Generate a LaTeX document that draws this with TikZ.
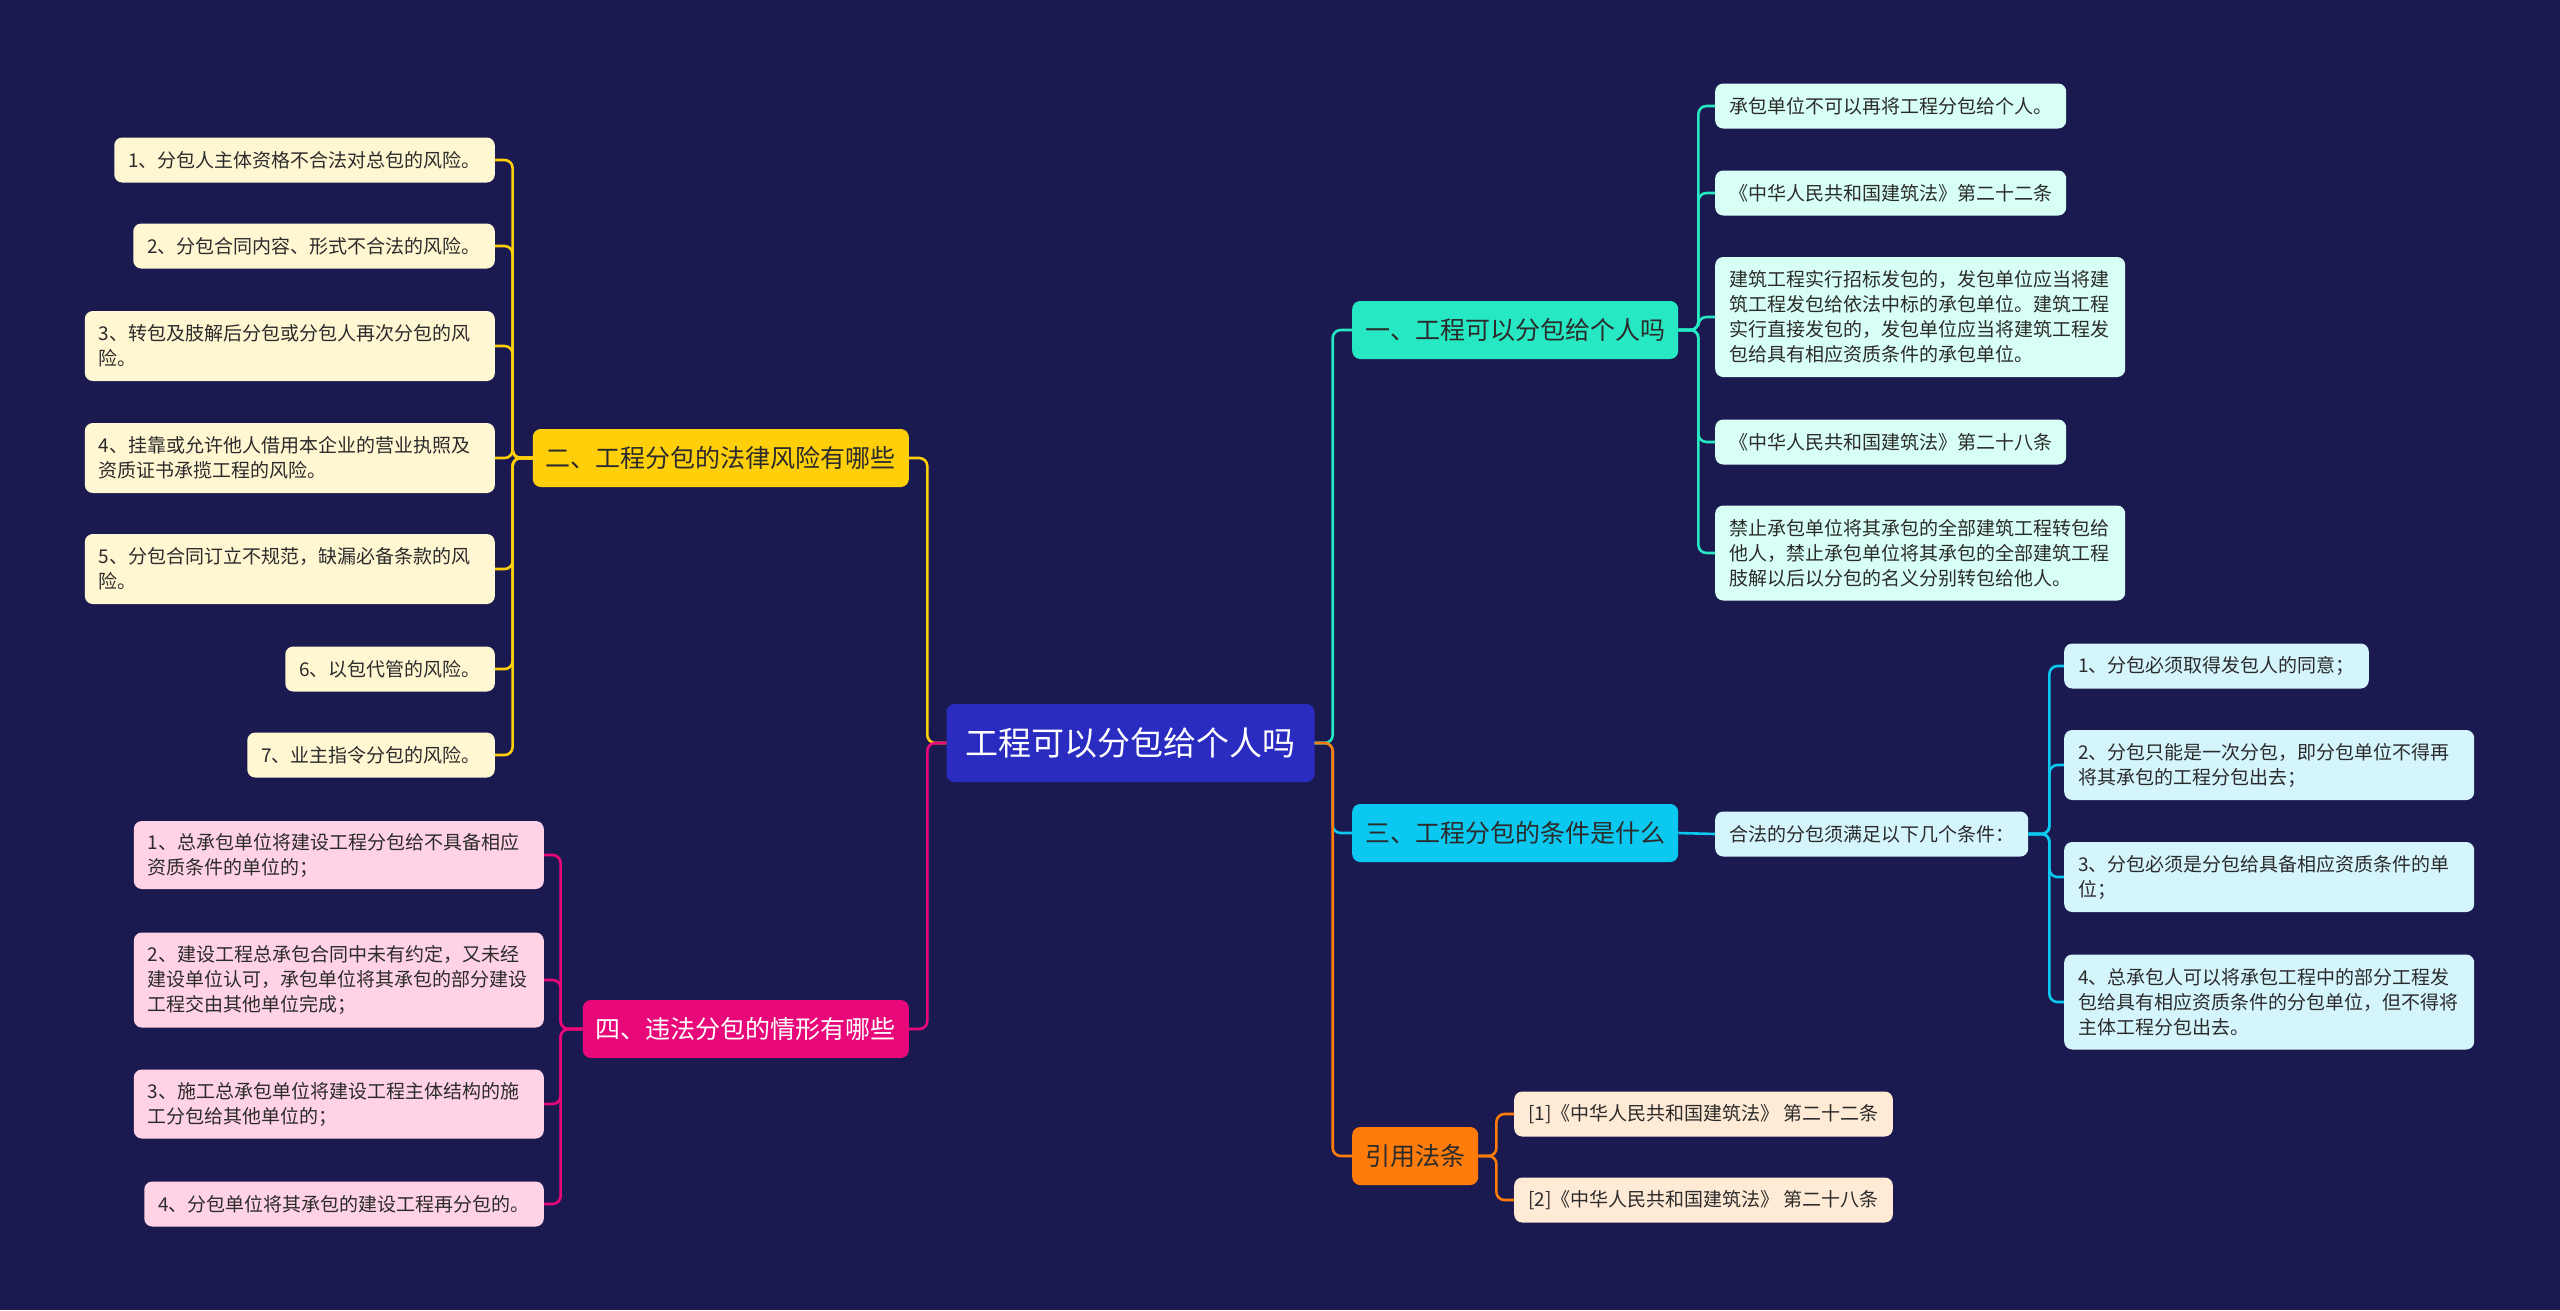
\documentclass[tikz,border=0pt]{standalone}
\usepackage{fontspec}
\setmainfont{Noto Sans CJK SC}
\usetikzlibrary{positioning}

\definecolor{bgnavy}{HTML}{1B1A50}
\definecolor{rootblue}{HTML}{2A2BC0}
\definecolor{darktext}{HTML}{2B2B2B}
\definecolor{ylw}{HTML}{FFCF0A}
\definecolor{ylwleaf}{HTML}{FFF6D2}
\definecolor{teal}{HTML}{26E8C2}
\definecolor{tealleaf}{HTML}{D8FFF5}
\definecolor{cyanbr}{HTML}{0BC8F0}
\definecolor{cyanleaf}{HTML}{D5F5FD}
\definecolor{orgbr}{HTML}{FF7C0A}
\definecolor{orgleaf}{HTML}{FFEAD5}
\definecolor{magbr}{HTML}{E8087A}
\definecolor{magleaf}{HTML}{FFD2E5}

\begin{document}
\begin{tikzpicture}[
    x=1pt, y=-1pt,
    every node/.style={rounded corners=8pt, inner ysep=0pt},
    root/.style={fill=rootblue, text=white, font=\fontsize{33}{40}\selectfont, minimum height=78pt, inner xsep=19pt},
    branch/.style={fill=#1, text=darktext, font=\fontsize{25}{30}\selectfont, minimum height=58pt, inner xsep=13pt},
    leaf/.style={fill=#1, text=darktext, font=\fontsize{19}{25}\selectfont, align=left, inner xsep=14pt, minimum height=45pt},
    wide/.style={text width=382pt},
    link/.style={draw=#1, line width=2.6pt, rounded corners=8pt}
]
\useasboundingbox (0,0) rectangle (2560,1310);
\fill[bgnavy] (0,0) rectangle (2560,1310);

% root and main branches
\node [root] (root) at (1130.5,743) {工程可以分包给个人吗};
\node [branch=teal, anchor=west] (b1) at (1352,330) {一、工程可以分包给个人吗};
\node [branch=ylw, anchor=east] (b2) at (909,458) {二、工程分包的法律风险有哪些};
\node [branch=cyanbr, anchor=west] (b3) at (1352,833) {三、工程分包的条件是什么};
\node [branch=magbr, anchor=east, text=white] (b4) at (909,1029) {四、违法分包的情形有哪些};
\node [branch=orgbr, anchor=west] (b5) at (1352,1156) {引用法条};

% branch one
\node [leaf=tealleaf, anchor=west] (t1) at (1715,106) {承包单位不可以再将工程分包给个人。};
\node [leaf=tealleaf, anchor=west] (t2) at (1715,193) {《中华人民共和国建筑法》第二十二条};
\node [leaf=tealleaf, wide, anchor=west, minimum height=120pt] (t3) at (1715,317) {建筑工程实行招标发包的，发包单位应当将建\\筑工程发包给依法中标的承包单位。建筑工程\\实行直接发包的，发包单位应当将建筑工程发\\包给具有相应资质条件的承包单位。};
\node [leaf=tealleaf, anchor=west] (t4) at (1715,442) {《中华人民共和国建筑法》第二十八条};
\node [leaf=tealleaf, wide, anchor=west, minimum height=95pt] (t5) at (1715,553) {禁止承包单位将其承包的全部建筑工程转包给\\他人，禁止承包单位将其承包的全部建筑工程\\肢解以后以分包的名义分别转包给他人。};

% branch two
\node [leaf=ylwleaf, anchor=east] (y1) at (495,160) {1、分包人主体资格不合法对总包的风险。};
\node [leaf=ylwleaf, anchor=east] (y2) at (495,246) {2、分包合同内容、形式不合法的风险。};
\node [leaf=ylwleaf, wide, anchor=east, minimum height=70pt] (y3) at (495,346) {3、转包及肢解后分包或分包人再次分包的风\\险。};
\node [leaf=ylwleaf, wide, anchor=east, minimum height=70pt] (y4) at (495,458) {4、挂靠或允许他人借用本企业的营业执照及\\资质证书承揽工程的风险。};
\node [leaf=ylwleaf, wide, anchor=east, minimum height=70pt] (y5) at (495,569) {5、分包合同订立不规范，缺漏必备条款的风\\险。};
\node [leaf=ylwleaf, anchor=east] (y6) at (495,669) {6、以包代管的风险。};
\node [leaf=ylwleaf, anchor=east] (y7) at (495,755) {7、业主指令分包的风险。};

% branch three
\node [leaf=cyanleaf, anchor=west] (c0) at (1715,834) {合法的分包须满足以下几个条件：};
\node [leaf=cyanleaf, anchor=west] (c1) at (2064,666) {1、分包必须取得发包人的同意；};
\node [leaf=cyanleaf, wide, anchor=west, minimum height=70pt] (c2) at (2064,765) {2、分包只能是一次分包，即分包单位不得再\\将其承包的工程分包出去；};
\node [leaf=cyanleaf, wide, anchor=west, minimum height=70pt] (c3) at (2064,877) {3、分包必须是分包给具备相应资质条件的单\\位；};
\node [leaf=cyanleaf, wide, anchor=west, minimum height=95pt] (c4) at (2064,1002) {4、总承包人可以将承包工程中的部分工程发\\包给具有相应资质条件的分包单位，但不得将\\主体工程分包出去。};

% branch four
\node [leaf=magleaf, wide, anchor=east, minimum height=68pt] (m1) at (544,855) {1、总承包单位将建设工程分包给不具备相应\\资质条件的单位的；};
\node [leaf=magleaf, wide, anchor=east, minimum height=95pt] (m2) at (544,980) {2、建设工程总承包合同中未有约定，又未经\\建设单位认可，承包单位将其承包的部分建设\\工程交由其他单位完成；};
\node [leaf=magleaf, wide, anchor=east, minimum height=69pt] (m3) at (544,1104) {3、施工总承包单位将建设工程主体结构的施\\工分包给其他单位的；};
\node [leaf=magleaf, anchor=east] (m4) at (544,1204) {4、分包单位将其承包的建设工程再分包的。};

% references
\node [leaf=orgleaf, anchor=west] (r1) at (1514,1114) {[1]《中华人民共和国建筑法》 第二十二条};
\node [leaf=orgleaf, anchor=west] (r2) at (1514,1200) {[2]《中华人民共和国建筑法》 第二十八条};

% connectors
\draw [link=ylw] (root.west) -- ++(-19,0) |- (b2.east);
\draw [link=magbr] (root.west) -- ++(-19,0) |- (b4.east);
\draw [link=teal] (root.east) -- ++(18,0) |- (b1.west);
\draw [link=cyanbr] (root.east) -- ++(18,0) |- (b3.west);
\draw [link=orgbr] (root.east) -- ++(18,0) |- (b5.west);

\foreach \n in {1,...,5}
  \draw [link=teal] (b1.east) -- ++(20,0) |- (t\n.west);
\foreach \n in {1,...,7}
  \draw [link=ylw] (b2.west) -- ++(-20,0) |- (y\n.east);
\draw [link=cyanbr] (b3.east) -- (c0.west);
\foreach \n in {1,...,4}
  \draw [link=cyanbr] (c0.east) -- ++(21,0) |- (c\n.west);
\foreach \n in {1,...,4}
  \draw [link=magbr] (b4.west) -- ++(-22,0) |- (m\n.east);
\foreach \n in {1,2}
  \draw [link=orgbr] (b5.east) -- ++(18,0) |- (r\n.west);
\end{tikzpicture}
\end{document}
